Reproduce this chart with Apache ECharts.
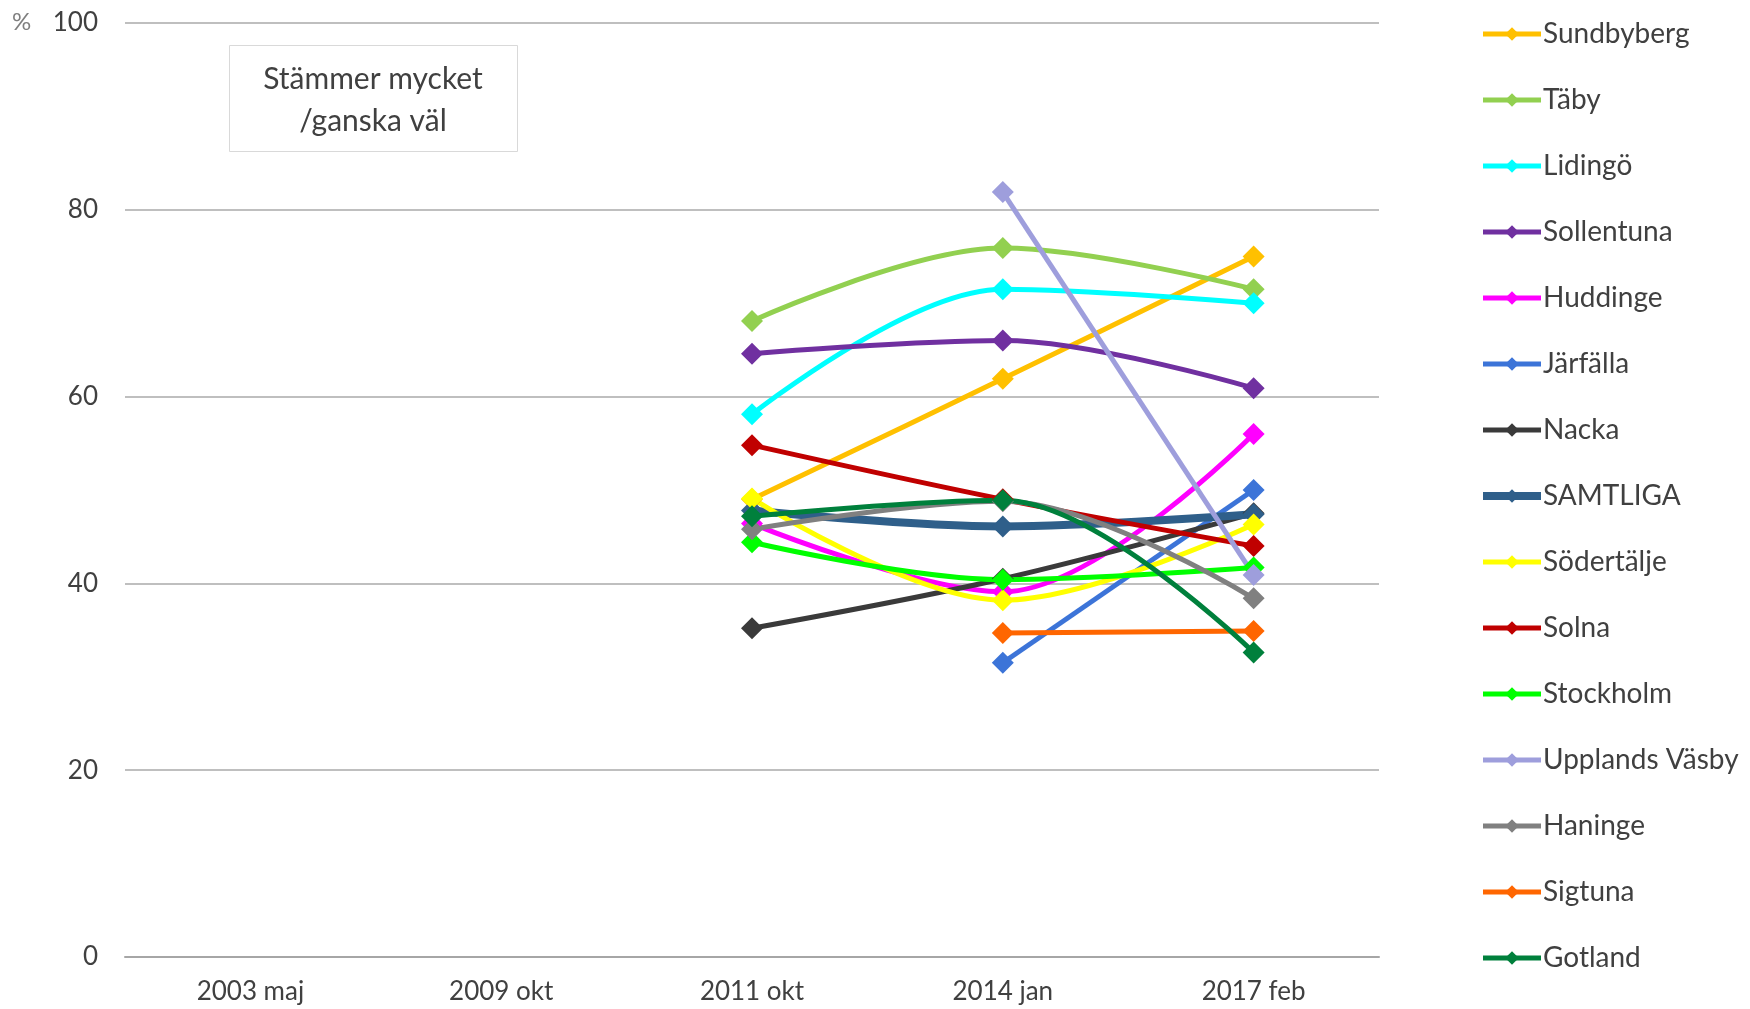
<!DOCTYPE html>
<html>
<head>
<meta charset="utf-8">
<script src="https://cdn.jsdelivr.net/npm/echarts@6/dist/echarts.min.js"></script>
<style>
  html, body { margin: 0; padding: 0; background: #ffffff; }
  #chart { width: 1750px; height: 1009px; }
</style>
</head>
<body>
<div id="chart"></div>
<script>
// Survey periods on the category axis
var periods = ['2003 maj', '2009 okt', '2011 okt', '2014 jan', '2017 feb'];

// Share answering "Stämmer mycket/ganska väl", % per municipality
var sundbyberg    = [null, null, 49.0, 61.9, 75.0];
var taby          = [null, null, 68.1, 75.9, 71.5];
var lidingo       = [null, null, 58.1, 71.5, 70.0];
var sollentuna    = [null, null, 64.6, 66.0, 60.9];
var huddinge      = [null, null, 46.4, 39.1, 56.0];
var jarfalla      = [null, null, null, 31.5, 50.0];
var nacka         = [null, null, 35.2, 40.5, 47.5];
var samtliga      = [null, null, 47.8, 46.1, 47.4];
var sodertalje    = [null, null, 49.1, 38.2, 46.3];
var solna         = [null, null, 54.8, 49.0, 44.0];
var stockholm     = [null, null, 44.4, 40.4, 41.7];
var upplandsVasby = [null, null, null, 81.9, 40.9];
var haninge       = [null, null, 45.8, 48.8, 38.4];
var sigtuna       = [null, null, null, 34.7, 34.9];
var gotland       = [null, null, 47.2, 48.9, 32.6];

// Y axis ticks
var yTicks = { min: 0, max: 100, interval: 20 };

var seriesDefs = [
  { name: 'Sundbyberg',     data: sundbyberg,    color: '#FFC000' },
  { name: 'Täby',           data: taby,          color: '#92D050' },
  { name: 'Lidingö',        data: lidingo,       color: '#00FFFF' },
  { name: 'Sollentuna',     data: sollentuna,    color: '#7030A0' },
  { name: 'Huddinge',       data: huddinge,      color: '#FF00FF' },
  { name: 'Järfälla',       data: jarfalla,      color: '#3C74D8' },
  { name: 'Nacka',          data: nacka,         color: '#3A3A3A' },
  { name: 'SAMTLIGA',       data: samtliga,      color: '#2F5F8A', wide: true },
  { name: 'Södertälje',     data: sodertalje,    color: '#FFFF00' },
  { name: 'Solna',          data: solna,         color: '#C00000' },
  { name: 'Stockholm',      data: stockholm,     color: '#00FF00' },
  { name: 'Upplands Väsby', data: upplandsVasby, color: '#9E9EDC' },
  { name: 'Haninge',        data: haninge,       color: '#808080' },
  { name: 'Sigtuna',        data: sigtuna,       color: '#FF6600' },
  { name: 'Gotland',        data: gotland,       color: '#00803C' }
];

var FONT = 'Lato, "Open Sans", sans-serif';
var TEXT = '#404040';

var series = seriesDefs.map(function (s) {
  return {
    name: s.name,
    type: 'line',
    data: s.data,
    smooth: 0.35,
    connectNulls: false,
    symbol: 'diamond',
    symbolSize: 22,
    showSymbol: true,
    color: s.color,
    lineStyle: { color: s.color, width: s.wide ? 8 : 5 },
    itemStyle: { color: s.color, borderWidth: 0 },
    emphasis: { disabled: true },
    animation: false
  };
});

// Legend entries: line plus diamond, SAMTLIGA with a heavier line
var legendData = seriesDefs.map(function (s) {
  return {
    name: s.name,
    icon: null,
    lineStyle: { color: s.color, width: s.wide ? 8 : 5 },
    itemStyle: { color: s.color, borderWidth: 0 }
  };
});

var chart = echarts.init(document.getElementById('chart'), null, { renderer: 'canvas' });

chart.setOption({
  backgroundColor: '#ffffff',
  animation: false,
  grid: { left: 125, right: 371, top: 23, bottom: 52, containLabel: false },
  xAxis: {
    type: 'category',
    data: periods,
    boundaryGap: true,
    axisLine: { show: true, lineStyle: { color: '#A6A6A6', width: 2 } },
    axisTick: { show: false },
    axisLabel: { color: TEXT, fontFamily: FONT, fontSize: 26, margin: 22 },
    splitLine: { show: false }
  },
  yAxis: {
    type: 'value',
    min: yTicks.min,
    max: yTicks.max,
    interval: yTicks.interval,
    axisLine: { show: false },
    axisTick: { show: false },
    axisLabel: { color: TEXT, fontFamily: FONT, fontSize: 26, margin: 27 },
    splitLine: { show: true, lineStyle: { color: '#BFBFBF', width: 2 } }
  },
  legend: {
    orient: 'vertical',
    left: 1474,
    top: 14,
    itemWidth: 58,
    itemHeight: 17,
    itemGap: 36,
    selectedMode: false,
    textStyle: { color: TEXT, fontFamily: FONT, fontSize: 28, lineHeight: 30, padding: [0, 0, 0, -3] },
    data: legendData
  },
  graphic: [
    {
      type: 'text',
      left: 12,
      top: 10,
      style: { text: '%', fill: '#7F7F7F', font: '24px ' + FONT }
    },
    {
      type: 'rect',
      left: 229,
      top: 45,
      shape: { width: 288, height: 106 },
      style: { fill: '#ffffff', stroke: '#D9D9D9', lineWidth: 1 },
      z: 10
    },
    {
      type: 'text',
      x: 373,
      y: 100,
      style: {
        text: 'Stämmer mycket\n/ganska väl',
        fill: TEXT,
        font: '30px ' + FONT,
        align: 'center',
        verticalAlign: 'middle',
        lineHeight: 42
      },
      z: 11
    }
  ],
  series: series
});
</script>
</body>
</html>
